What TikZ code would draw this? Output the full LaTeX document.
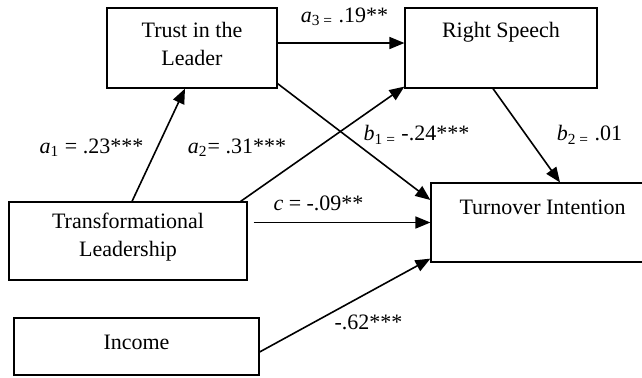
\documentclass[tikz,border=0pt]{standalone}
\usepackage{fontspec}
\setmainfont{Liberation Serif}
\usetikzlibrary{arrows.meta}
\begin{document}
\begin{tikzpicture}[x=0.5pt,y=-0.5pt,
  box/.style={draw, line width=0.6pt, inner sep=0pt},
  arr/.style={line width=0.8pt, -{Triangle[length=7.5pt,width=6pt]}},
  lab/.style={font=\fontsize{11}{13.5}\selectfont, inner sep=0pt},
  every label/.style={font=\fontsize{11}{14}\selectfont, align=center}]
\useasboundingbox (0,0) rectangle (642,377);
\node[box, minimum width=85pt, minimum height=40pt, label={[yshift=2pt]center:Trust in the\\Leader}] (trust) at (192,48) {};
\node[box, minimum width=96pt, minimum height=40pt, label={[yshift=8pt]center:Right Speech}] (rs) at (501,48) {};
\node[box, minimum width=111.5pt, minimum height=39.5pt, label={[yshift=7.75pt]center:Turnover Intention}] (to) at (542.5,222.5) {};
\node[box, minimum width=119pt, minimum height=39pt, label={[yshift=1.75pt]center:Transformational\\Leadership}] (tl) at (128,241) {};
\node[box, minimum width=122.5pt, minimum height=28.5pt, label={[yshift=2pt]center:Income}] (inc) at (136.5,346.5) {};

\draw[arr] ([yshift=2.5pt]trust.east) -- ([yshift=2.5pt]rs.west);
\draw[arr] ([yshift=2.5pt]trust.south east) -- ([yshift=11.25pt]to.west);
\draw[arr] ([xshift=2pt]tl.north) -- ([xshift=-3.5pt]trust.south);
\draw[arr] ([xshift=-3.5pt]tl.north east) -- ([yshift=1pt]rs.south west);
\draw[arr] ([xshift=3pt]tl.east |- to.west) -- (to.west);
\draw[arr] ([yshift=-2.75pt]inc.east) -- ([yshift=2pt]to.south west);
\draw[arr] ([xshift=-4pt]rs.south) -- ([xshift=8.75pt]to.north);

\node[lab] (la1) at (91.5,148) {\textit{a}\textsubscript{1} = .23***};
\node[lab] (la2) at (237,148) {\textit{a}\textsubscript{2}= .31***};
\node[lab] (la3) at (344.5,17) {\textit{a}\textsubscript{3 =} .19**};
\node[lab] (lb1) at (416.5,135) {\textit{b}\textsubscript{1 =} -.24***};
\node[lab] (lb2) at (589.5,135) {\textit{b}\textsubscript{2 =} .01};
\node[lab] (lc) at (318.5,203) {\textit{c} = -.09**};
\node[lab] (linc) at (368.5,322) {-.62***};
\end{tikzpicture}
\end{document}
